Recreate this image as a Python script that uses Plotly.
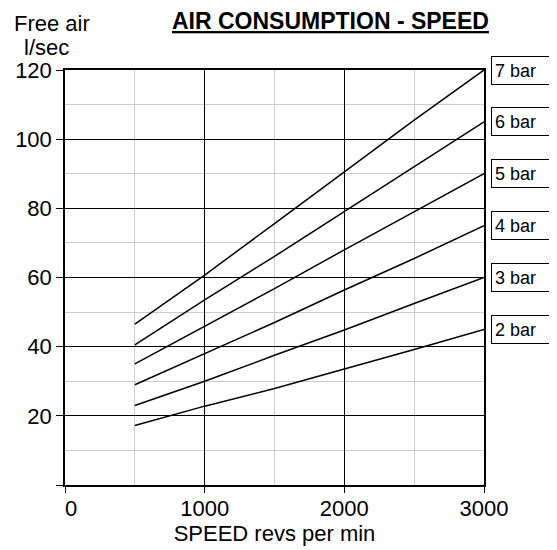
import plotly.graph_objects as go

speed = [500, 1000, 1500, 2000, 2500, 3000]
pressures = ["7 bar", "6 bar", "5 bar", "4 bar", "3 bar", "2 bar"]
air_7bar = [46.5, 60.7, 75.6, 90.5, 105.5, 120]
air_6bar = [40.5, 53.5, 66.1, 79.1, 92.0, 105]
air_5bar = [35.0, 45.9, 56.8, 68.0, 79.0, 90]
air_4bar = [29.0, 37.9, 47.0, 56.4, 65.5, 75]
air_3bar = [23.0, 30.0, 37.5, 44.8, 52.5, 60]
air_2bar = [17.2, 22.8, 27.9, 33.5, 39.2, 45]
series = [air_7bar, air_6bar, air_5bar, air_4bar, air_3bar, air_2bar]

x_tickvals = [0, 1000, 2000, 3000]
x_ticktext = ["\u00a0\u00a00", "1000", "2000", "3000"]
y_tickvals = [0, 20, 40, 60, 80, 100, 120]
y_ticktext = ["", "20", "40", "60", "80", "100", "120"]

FONT = "Liberation Sans, Arial, sans-serif"

# page has an 8px body margin; compensate so the plot sits where the reference has it
OFF = 8
W, H = 557 - OFF, 550 - OFF
L, T = 65 - OFF, 70 - OFF
R = W - (484 - OFF)
B = H - (485 - OFF)
pw, ph = W - L - R, H - T - B

def px_x(p):
    return (p - OFF - L) / pw

def px_y(p):
    return (H - B - (p - OFF)) / ph

fig = go.Figure()
for name, vals in zip(pressures, series):
    fig.add_trace(go.Scatter(x=speed, y=vals, mode="lines", name=name,
                             line=dict(color="black", width=1.5),
                             showlegend=False, hoverinfo="skip"))

for name, vals in zip(pressures, series):
    fig.add_annotation(x=1, xref="paper", y=vals[-1], yref="y",
                       xanchor="left", yanchor="middle", xshift=7,
                       text=name, showarrow=False, align="left",
                       width=90, height=21, borderpad=3,
                       bordercolor="black", borderwidth=1, bgcolor="white",
                       font=dict(family=FONT, size=18, color="black"))

fig.add_annotation(x=px_x(330), y=px_y(21), xref="paper", yref="paper",
                   text="<b><u>AIR CONSUMPTION - SPEED</u></b>", showarrow=False,
                   xanchor="center", yanchor="middle",
                   font=dict(family=FONT, size=23, color="black"))
fig.add_annotation(x=px_x(52), y=px_y(24), xref="paper", yref="paper",
                   text="Free air", showarrow=False, xanchor="center", yanchor="middle",
                   font=dict(family=FONT, size=22, color="black"))
fig.add_annotation(x=px_x(46), y=px_y(48), xref="paper", yref="paper",
                   text="l/sec", showarrow=False, xanchor="center", yanchor="middle",
                   font=dict(family=FONT, size=22, color="black"))

fig.update_layout(
    width=W, height=H,
    margin=dict(l=L, r=R, t=T, b=B, autoexpand=False),
    paper_bgcolor="white", plot_bgcolor="white",
    font=dict(family=FONT, size=22, color="black"),
    xaxis=dict(range=[0, 3000], tickvals=x_tickvals, ticktext=x_ticktext,
               automargin=False,
               showgrid=True, gridcolor="black", gridwidth=1,
               minor=dict(dtick=500, showgrid=True, gridcolor="#cccccc", gridwidth=1, ticks=""),
               showline=True, linecolor="black", linewidth=1.5, mirror=True,
               ticks="outside", ticklen=6, tickcolor="black", tickwidth=1,
               zeroline=False, tickfont=dict(size=22), ticklabelstandoff=-3,
               title=dict(text="SPEED revs per min", font=dict(size=22), standoff=2)),
    yaxis=dict(range=[0, 120], tickvals=y_tickvals, ticktext=y_ticktext,
               automargin=False,
               showgrid=True, gridcolor="black", gridwidth=1,
               minor=dict(dtick=10, showgrid=True, gridcolor="#cccccc", gridwidth=1, ticks=""),
               showline=True, linecolor="black", linewidth=1.5, mirror=True,
               ticks="outside", ticklen=7, tickcolor="black", tickwidth=1,
               zeroline=False, tickfont=dict(size=22), ticklabelstandoff=0),
)

fig.write_html("out.html")
